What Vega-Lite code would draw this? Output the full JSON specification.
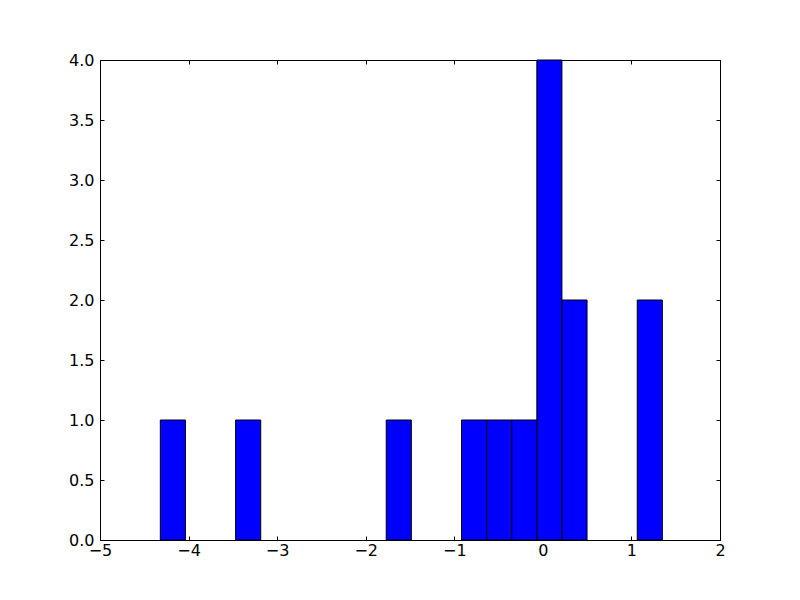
{
  "$schema": "https://vega.github.io/schema/vega-lite/v6.json",
  "width": 620,
  "height": 480,
  "autosize": "none",
  "padding": {"left": 100, "top": 60, "right": 80, "bottom": 60},
  "background": "white",
  "config": {
    "view": {"stroke": "black", "strokeWidth": 1},
    "axis": {
      "grid": false,
      "domain": false,
      "labelFont": "DejaVu Sans",
      "labelFontSize": 16,
      "labelColor": "black",
      "labelFlush": false,
      "labelOverlap": false,
      "tickColor": "black",
      "tickSize": -4,
      "tickWidth": 1,
      "title": null
    }
  },
  "data": {
    "values": [
      {"start": -4.319, "end": -4.0356, "count": 1},
      {"start": -3.4688, "end": -3.1854, "count": 1},
      {"start": -1.7684, "end": -1.485, "count": 1},
      {"start": -0.9182, "end": -0.6348, "count": 1},
      {"start": -0.6348, "end": -0.3514, "count": 1},
      {"start": -0.3514, "end": -0.068, "count": 1},
      {"start": -0.068, "end": 0.2154, "count": 4},
      {"start": 0.2154, "end": 0.4988, "count": 2},
      {"start": 1.0656, "end": 1.349, "count": 2}
    ]
  },
  "resolve": {"axis": {"x": "independent", "y": "independent"}},
  "layer": [
    {
      "mark": {"type": "rect", "fill": "#0000ff", "stroke": "black", "strokeWidth": 1},
      "encoding": {
        "x": {"field": "start", "type": "quantitative",
              "scale": {"domain": [-5, 2], "nice": false, "zero": false},
              "axis": {"orient": "bottom", "values": [-5, -4, -3, -2, -1, 0, 1, 2], "format": "d", "labelPadding": 6}},
        "x2": {"field": "end"},
        "y": {"field": "count", "type": "quantitative",
              "scale": {"domain": [0, 4], "nice": false},
              "axis": {"orient": "left", "values": [0, 0.5, 1, 1.5, 2, 2.5, 3, 3.5, 4], "format": ".1f", "labelPadding": 10}},
        "y2": {"datum": 0}
      }
    },
    {
      "mark": {"type": "rect", "opacity": 0},
      "encoding": {
        "x": {"field": "start", "type": "quantitative",
              "axis": {"orient": "top", "values": [-5, -4, -3, -2, -1, 0, 1, 2], "labels": false}},
        "x2": {"field": "end"},
        "y": {"field": "count", "type": "quantitative",
              "axis": {"orient": "right", "values": [0, 0.5, 1, 1.5, 2, 2.5, 3, 3.5, 4], "labels": false}},
        "y2": {"datum": 0}
      }
    }
  ]
}
